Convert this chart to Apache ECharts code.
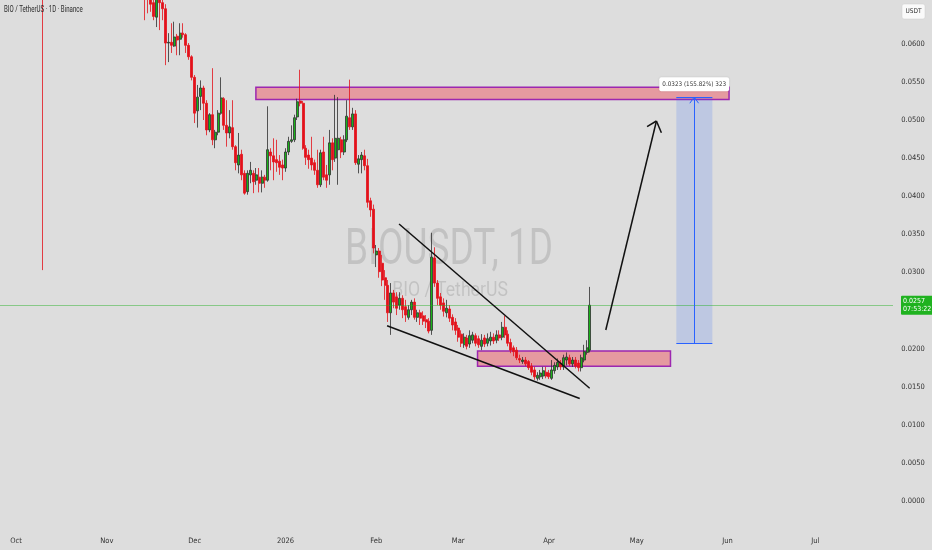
<!DOCTYPE html>
<html><head><meta charset="utf-8">
<script src="https://cdn.jsdelivr.net/npm/echarts@6/dist/echarts.min.js"></script>
<style>html,body{margin:0;padding:0;background:#dddddd}#c{width:932px;height:550px}</style>
</head><body><div id="c"></div>
<script>
// ---------- data ----------
const firstCategory = '2025-09-26';
const categoryCount = 305;
const dayZero = '2025-10-01';           // annotation x values are days since this date
const monthNames = ['Jan','Feb','Mar','Apr','May','Jun','Jul','Aug','Sep','Oct','Nov','Dec'];
const priceStep = 0.005;
const priceMin = -0.005;
const priceMax = 0.06575;
const hiddenPriceTicks = [-0.005, 0.025, 0.065];

const crashDate = '2025-10-10';
const crashCandle = [0.0950, 0.0820, 0.0303, 0.0980]; // open, close, low, high

const candleStart = '2025-11-14';
const opens = [0.0700,0.0680,0.0670,0.0654,0.0635,0.0665,0.0654,0.0646,0.0601,0.0602,0.0597,0.0610,0.0606,0.0614,0.0612,0.0598,0.0583,0.0556,0.0512,0.0531,0.0542,0.0522,0.0487,0.0507,0.0474,0.0484,0.0509,0.0528,0.0493,0.0483,0.0490,0.0465,0.0441,0.0455,0.0430,0.0406,0.0428,0.0430,0.0421,0.0425,0.0417,0.0425,0.0421,0.0458,0.0453,0.0448,0.0446,0.0441,0.0437,0.0458,0.0472,0.0474,0.0504,0.0525,0.0522,0.0463,0.0454,0.0450,0.0444,0.0434,0.0415,0.0458,0.0428,0.0428,0.0470,0.0450,0.0461,0.0474,0.0458,0.0474,0.0503,0.0491,0.0508,0.0442,0.0448,0.0453,0.0440,0.0394,0.0383,0.0323,0.0328,0.0312,0.0293,0.0283,0.0247,0.0273,0.0268,0.0257,0.0266,0.0255,0.0241,0.0251,0.0261,0.0241,0.0247,0.0243,0.0238,0.0236,0.0224,0.0319,0.0286,0.0268,0.0260,0.0247,0.0252,0.0241,0.0235,0.0227,0.0219,0.0205,0.0214,0.0206,0.0211,0.0217,0.0213,0.0203,0.0214,0.0207,0.0210,0.0215,0.0211,0.0218,0.0215,0.0228,0.0219,0.0208,0.0201,0.0198,0.0187,0.0183,0.0185,0.0183,0.0177,0.0172,0.0161,0.0163,0.0164,0.0169,0.0168,0.0161,0.0171,0.0176,0.0181,0.0176,0.0185,0.0188,0.0180,0.0185,0.0181,0.0175,0.0185,0.0195,0.0198];
const closes = [0.0680,0.0665,0.0652,0.0636,0.0665,0.0654,0.0646,0.0601,0.0602,0.0598,0.0609,0.0605,0.0614,0.0612,0.0598,0.0583,0.0556,0.0509,0.0530,0.0542,0.0522,0.0487,0.0507,0.0474,0.0484,0.0509,0.0529,0.0493,0.0483,0.0491,0.0465,0.0444,0.0454,0.0428,0.0404,0.0430,0.0434,0.0419,0.0428,0.0417,0.0425,0.0421,0.0461,0.0453,0.0445,0.0444,0.0438,0.0437,0.0458,0.0472,0.0474,0.0503,0.0524,0.0522,0.0463,0.0451,0.0448,0.0441,0.0434,0.0415,0.0457,0.0425,0.0421,0.0470,0.0448,0.0476,0.0476,0.0458,0.0474,0.0505,0.0491,0.0508,0.0444,0.0449,0.0454,0.0440,0.0392,0.0382,0.0332,0.0328,0.0301,0.0290,0.0283,0.0247,0.0273,0.0261,0.0253,0.0266,0.0251,0.0244,0.0251,0.0261,0.0241,0.0247,0.0240,0.0236,0.0235,0.0223,0.0320,0.0286,0.0266,0.0257,0.0249,0.0253,0.0240,0.0231,0.0224,0.0215,0.0207,0.0215,0.0203,0.0217,0.0218,0.0207,0.0205,0.0211,0.0206,0.0213,0.0215,0.0210,0.0218,0.0214,0.0228,0.0218,0.0207,0.0198,0.0196,0.0188,0.0185,0.0185,0.0180,0.0175,0.0169,0.0163,0.0165,0.0168,0.0171,0.0164,0.0163,0.0172,0.0178,0.0182,0.0176,0.0188,0.0189,0.0180,0.0185,0.0177,0.0175,0.0188,0.0196,0.0201,0.0257];
const lows = [0.0631,0.0640,0.0642,0.0631,0.0622,0.0618,0.0631,0.0572,0.0576,0.0588,0.0596,0.0585,0.0585,0.0608,0.0588,0.0579,0.0552,0.0496,0.0490,0.0513,0.0500,0.0480,0.0484,0.0467,0.0463,0.0480,0.0507,0.0487,0.0465,0.0476,0.0461,0.0434,0.0430,0.0421,0.0402,0.0402,0.0417,0.0404,0.0415,0.0405,0.0405,0.0411,0.0419,0.0434,0.0421,0.0432,0.0428,0.0421,0.0432,0.0454,0.0470,0.0471,0.0500,0.0518,0.0461,0.0441,0.0436,0.0434,0.0428,0.0411,0.0412,0.0421,0.0411,0.0415,0.0434,0.0445,0.0415,0.0450,0.0454,0.0471,0.0487,0.0487,0.0441,0.0430,0.0430,0.0434,0.0385,0.0373,0.0325,0.0307,0.0293,0.0282,0.0264,0.0235,0.0218,0.0253,0.0244,0.0251,0.0240,0.0235,0.0238,0.0244,0.0238,0.0235,0.0231,0.0231,0.0227,0.0220,0.0218,0.0281,0.0257,0.0251,0.0242,0.0241,0.0235,0.0224,0.0218,0.0209,0.0202,0.0201,0.0199,0.0201,0.0207,0.0203,0.0201,0.0198,0.0202,0.0203,0.0204,0.0206,0.0207,0.0210,0.0211,0.0214,0.0203,0.0194,0.0190,0.0185,0.0181,0.0180,0.0177,0.0172,0.0165,0.0159,0.0158,0.0159,0.0160,0.0161,0.0160,0.0159,0.0167,0.0172,0.0172,0.0172,0.0178,0.0177,0.0176,0.0174,0.0170,0.0170,0.0182,0.0192,0.0195];
const highs = [0.0720,0.0690,0.0680,0.0660,0.0670,0.0670,0.0658,0.0652,0.0614,0.0627,0.0629,0.0613,0.0627,0.0627,0.0614,0.0601,0.0585,0.0559,0.0546,0.0552,0.0545,0.0526,0.0509,0.0568,0.0487,0.0513,0.0556,0.0530,0.0526,0.0513,0.0526,0.0467,0.0483,0.0461,0.0434,0.0434,0.0445,0.0434,0.0437,0.0437,0.0434,0.0428,0.0518,0.0463,0.0476,0.0474,0.0454,0.0448,0.0463,0.0478,0.0493,0.0507,0.0528,0.0566,0.0525,0.0467,0.0461,0.0478,0.0448,0.0461,0.0461,0.0478,0.0441,0.0487,0.0476,0.0533,0.0530,0.0478,0.0480,0.0526,0.0553,0.0516,0.0513,0.0454,0.0458,0.0461,0.0449,0.0398,0.0389,0.0336,0.0332,0.0323,0.0303,0.0290,0.0286,0.0277,0.0274,0.0274,0.0270,0.0264,0.0257,0.0264,0.0266,0.0251,0.0251,0.0249,0.0244,0.0240,0.0352,0.0333,0.0290,0.0273,0.0266,0.0264,0.0257,0.0245,0.0240,0.0231,0.0224,0.0220,0.0218,0.0224,0.0222,0.0220,0.0217,0.0219,0.0218,0.0220,0.0222,0.0220,0.0224,0.0224,0.0235,0.0243,0.0224,0.0213,0.0204,0.0202,0.0192,0.0189,0.0189,0.0185,0.0181,0.0176,0.0169,0.0172,0.0176,0.0176,0.0172,0.0185,0.0182,0.0187,0.0185,0.0192,0.0195,0.0192,0.0189,0.0189,0.0185,0.0192,0.0205,0.0211,0.0281];

const lastPrice = 0.0257;
const countdown = '07:53:22';

// drawings: [daysSinceDayZero, price]
const upperZone = [[81.9, 0.0527], [243.5, 0.0543]];
const lowerZone = [[157.6, 0.0177], [223.5, 0.0197]];
const wedgeUpper = [[130.8, 0.03635], [195.9, 0.01479]];
const wedgeLower = [[126.7, 0.0230], [192.5, 0.01345]];
const arrowShaft = [[201.4, 0.02244], [218.7, 0.04987]];
const arrowHead = [[215.5, 0.04912], [218.7, 0.04987], [220.4, 0.04833]];
const measureBox = [[225.5, 0.0207], [237.8, 0.0530]];
const measureMid = 231.6;
const measureHead = [[230.1, 0.0522], [231.6, 0.0530], [233.1, 0.0522]];
const measureLabel = '0.0323 (155.82%) 323';

// ---------- build ----------
const DAY = 864e5;
const toISO = t => new Date(t).toISOString().slice(0, 10);
const catStart = Date.parse(firstCategory + 'T00:00:00Z');
const categories = [];
for (let i = 0; i < categoryCount; i++) categories.push(toISO(catStart + i * DAY));
const dayOffset = Math.round((Date.parse(dayZero + 'T00:00:00Z') - catStart) / DAY);
const xLo = -dayOffset - 0.5, xHi = categoryCount - dayOffset - 0.5;

const candleData = [[crashDate].concat(crashCandle)];
const cStart = Date.parse(candleStart + 'T00:00:00Z');
opens.forEach((o, i) => candleData.push([toISO(cStart + i * DAY), o, closes[i], lows[i], highs[i]]));

const FONT = "'Liberation Sans Narrow','DejaVu Sans Condensed','Roboto Condensed',Roboto,sans-serif";
const black = {color: '#111', width: 1.5, type: 'solid'};
const blue = {color: '#2962ff', width: 1, type: 'solid'};
const priceLineStyle = {color: 'rgba(30,175,30,0.45)', width: 1, type: 'solid'};
const seg = (a, b, style, label) => [
  {coord: a, lineStyle: style, label: label || {show: false}},
  {coord: b}
];
const isHiddenTick = v => {
  const r = v / priceStep;
  if (Math.abs(r - Math.round(r)) > 1e-6) return true;
  return hiddenPriceTicks.some(h => Math.abs(h - v) < 1e-9);
};

const option = {
  backgroundColor: '#dddddd',
  animation: false,
  grid: {left: 0, right: 39, top: 0, bottom: 10.9},
  xAxis: [{
    type: 'category', data: categories, boundaryGap: true,
    axisLine: {show: false}, axisTick: {show: false}, splitLine: {show: false},
    axisLabel: {
      interval: (idx, val) => val.slice(8) === '01',
      formatter: val => { const m = +val.slice(5, 7) - 1; return m === 0 ? val.slice(0, 4) : monthNames[m]; },
      color: '#333', fontSize: 7.5, fontFamily: FONT, margin: -2
    }
  }, {
    type: 'value', show: false, min: xLo, max: xHi
  }],
  yAxis: {
    type: 'value', position: 'right', min: priceMin, max: priceMax, interval: priceStep,
    axisLine: {show: false}, axisTick: {show: false}, splitLine: {show: false},
    axisLabel: {
      formatter: v => isHiddenTick(v) ? '' : v.toFixed(4),
      color: '#333', fontSize: 7.5, fontFamily: FONT, margin: 20, align: 'center'
    }
  },
  graphic: [
    {type: 'text', x: 449, y: 251, z: 0, scaleX: 0.74, silent: true,
      style: {text: 'BIOUSDT, 1D', fontSize: 50, fontFamily: 'Roboto, sans-serif', fill: 'rgba(0,0,0,0.12)', align: 'center', verticalAlign: 'middle'}},
    {type: 'text', x: 450, y: 291, z: 0, scaleX: 0.84, silent: true,
      style: {text: 'BIO / TetherUS', fontSize: 21, fontFamily: 'Roboto, sans-serif', fill: 'rgba(0,0,0,0.12)', align: 'center', verticalAlign: 'middle'}},
    {type: 'text', x: 4, y: 10, z: 10, scaleX: 0.72, silent: true,
      style: {text: 'BIO / TetherUS · 1D · Binance', fontSize: 8.5, fontFamily: 'Roboto, sans-serif', fill: '#2a2a2a', verticalAlign: 'middle'}},
    {type: 'rect', z: 10, silent: true, shape: {x: 902, y: 4, width: 23, height: 15, r: 2},
      style: {fill: '#fafafa', stroke: '#cfcfcf', lineWidth: 0.5}},
    {type: 'text', x: 913.5, y: 11.5, z: 11, silent: true,
      style: {text: 'USDT', fontSize: 6.5, fontFamily: FONT, fill: '#333', align: 'center', verticalAlign: 'middle'}}
  ],
  series: [{
    type: 'candlestick', name: 'BIOUSDT', xAxisIndex: 0, yAxisIndex: 0, z: 2,
    data: candleData, encode: {x: 0, y: [1, 2, 3, 4]},
    barWidth: 2.5, clip: true,
    itemStyle: {color: '#19b319', color0: '#e3111b', borderColor: '#2f2f2f', borderColor0: '#e3111b', borderWidth: 0.8}
  }, {
    type: 'line', name: 'zones', xAxisIndex: 1, yAxisIndex: 0, data: [], z: 3, silent: true,
    markArea: {
      silent: true, label: {show: false},
      data: [
        [{coord: upperZone[0], itemStyle: {color: 'rgba(242,54,69,0.40)', borderColor: '#9c27b0', borderWidth: 1.5}}, {coord: upperZone[1]}],
        [{coord: lowerZone[0], itemStyle: {color: 'rgba(242,54,69,0.40)', borderColor: '#9c27b0', borderWidth: 1.5}}, {coord: lowerZone[1]}],
        [{coord: measureBox[0], itemStyle: {color: 'rgba(41,98,255,0.17)', borderWidth: 0}}, {coord: measureBox[1]}]
      ]
    }
  }, {
    type: 'line', name: 'lines', xAxisIndex: 1, yAxisIndex: 0, data: [], z: 4, silent: true,
    markLine: {
      silent: true, symbol: ['none', 'none'], animation: false, label: {show: false},
      data: [
        seg([xLo, lastPrice], [xHi, lastPrice], priceLineStyle,
          {show: true, position: 'end', distance: 8, formatter: lastPrice.toFixed(4) + '\n' + countdown,
            backgroundColor: '#1fb21f', color: '#fff', padding: [2, 2, 1, 2], fontSize: 7, lineHeight: 8,
            fontFamily: FONT, borderRadius: 1}),
        seg(wedgeUpper[0], wedgeUpper[1], black),
        seg(wedgeLower[0], wedgeLower[1], black),
        seg(arrowShaft[0], arrowShaft[1], black),
        seg(arrowHead[0], arrowHead[1], black),
        seg(arrowHead[1], arrowHead[2], black),
        seg([measureBox[0][0], measureBox[0][1]], [measureBox[1][0], measureBox[0][1]], blue),
        seg([measureBox[0][0], measureBox[1][1]], [measureBox[1][0], measureBox[1][1]], blue),
        seg([measureMid, measureBox[0][1]], [measureMid, measureBox[1][1]], blue,
          {show: true, position: 'end', distance: 6, formatter: measureLabel, backgroundColor: '#ffffff',
            color: '#333', fontSize: 6.3, fontFamily: FONT, padding: [4, 3], borderRadius: 2,
            shadowColor: 'rgba(0,0,0,0.15)', shadowBlur: 2}),
        seg(measureHead[0], measureHead[1], blue),
        seg(measureHead[1], measureHead[2], blue)
      ]
    }
  }]
};

const chart = echarts.init(document.getElementById('c'), null, {renderer: 'canvas'});
chart.setOption(option);
</script>
</body></html>
